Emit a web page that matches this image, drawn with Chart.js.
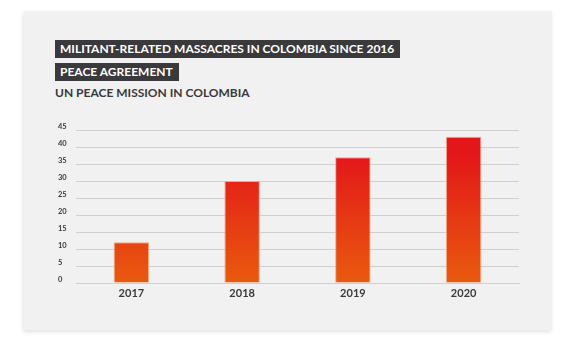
<!DOCTYPE html>
<html>
<head>
<meta charset="utf-8">
<script src="https://cdn.jsdelivr.net/npm/chart.js@4"></script>
<style>
  html, body { margin: 0; padding: 0; background: #fff; }
  body { width: 576px; height: 342px; position: relative; overflow: hidden; font-family: Lato, sans-serif; }
  .card {
    position: absolute; left: 24px; top: 11px; width: 528px; height: 319px;
    background: #f1f1f1; box-shadow: -1px 2px 4px rgba(0,0,0,0.12);
  }
  .tag {
    position: absolute; left: 55px; height: 18px; line-height: 18px;
    background: #3a393c; color: #fff; font-weight: 700; font-size: 12px;
    padding: 0 6px 0 5px; white-space: nowrap;
  }
  .sub {
    position: absolute; left: 55px; top: 84px; line-height: 18px;
    color: #3a393c; font-weight: 700; font-size: 12px; white-space: nowrap;
  }
  .chart-box { position: absolute; left: 50px; top: 120px; width: 480px; height: 190px; }
</style>
</head>
<body>
<div class="card"></div>
<div class="tag" style="top:40px">MILITANT-RELATED MASSACRES IN COLOMBIA SINCE 2016</div>
<div class="tag" style="top:63px">PEACE AGREEMENT</div>
<div class="sub">UN PEACE MISSION IN COLOMBIA</div>
<div class="chart-box"><canvas id="massacres"></canvas></div>
<script>
const years = ['2017', '2018', '2019', '2020'];
const massacres = [12, 30, 37, 43];
const yTicks = [0, 5, 10, 15, 20, 25, 30, 35, 40, 45];

const ink = '#3a393c';
const gridColor = '#cfcfcf';

// red at the top fading to orange at the baseline, fixed to the y scale
function barFill(context) {
  const chart = context.chart;
  const area = chart.chartArea;
  if (!area) return '#e8520f';
  const y = chart.scales.y;
  const g = chart.ctx.createLinearGradient(0, y.getPixelForValue(38), 0, y.getPixelForValue(0));
  g.addColorStop(0, '#e3161a');
  g.addColorStop(1, '#e95a0e');
  return g;
}

new Chart(document.getElementById('massacres'), {
  type: 'bar',
  data: {
    labels: years,
    datasets: [{
      data: massacres,
      backgroundColor: barFill,
      borderColor: 'rgba(246,160,120,0.9)',
      borderWidth: { top: 1, left: 1, right: 1, bottom: 0 },
      barPercentage: 0.32,
      categoryPercentage: 1
    }]
  },
  options: {
    responsive: true,
    maintainAspectRatio: false,
    animation: false,
    layout: { padding: { left: 8, top: 10, right: 11, bottom: 0 } },
    plugins: { legend: { display: false }, tooltip: { enabled: false } },
    scales: {
      x: {
        grid: { display: false, drawTicks: false },
        border: { color: gridColor, width: 1 },
        ticks: { color: ink, font: { family: 'Lato', weight: 'bold', size: 11 }, padding: 4 },
        afterFit: s => { s.height = 27; }
      },
      y: {
        min: 0,
        max: 45,
        afterBuildTicks: s => { s.ticks = yTicks.map(v => ({ value: v })); },
        grid: { color: gridColor, lineWidth: 1, drawTicks: false },
        border: { display: false },
        ticks: {
          color: ink,
          font: { family: 'Lato', weight: 'bold', size: 7.5 },
          crossAlign: 'far',
          labelOffset: -3,
          padding: 0
        },
        afterFit: s => { s.width = 18; }
      }
    }
  }
});
</script>
</body>
</html>
